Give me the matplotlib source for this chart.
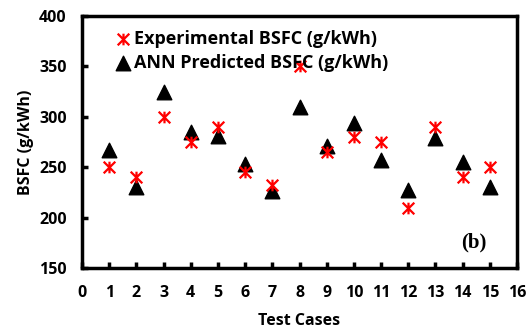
import matplotlib
matplotlib.use("Agg")
import matplotlib.pyplot as plt
from matplotlib.path import Path

cases = list(range(1, 16))
experimental = [250, 240, 300, 275, 290, 245, 232, 350, 265, 280, 275, 210, 290, 240, 250]
ann_predicted = [267, 230, 325, 285, 281, 253, 226, 310, 271, 294, 257, 227, 279, 255, 230]

# excel-like star marker: an X with a vertical stroke
star = Path([(-1, -1), (1, 1), (-1, 1), (1, -1), (0, -1), (0, 1)],
            [Path.MOVETO, Path.LINETO, Path.MOVETO, Path.LINETO, Path.MOVETO, Path.LINETO])

plt.rcParams['font.family'] = ['Open Sans', 'DejaVu Sans']
plt.rcParams['font.weight'] = 'bold'

fig = plt.figure(figsize=(5.26, 3.31), dpi=100)
ax = fig.add_axes([0.156, 0.19, 0.827, 0.762])

ax.scatter(cases, experimental, marker=star, s=70, color='red', linewidths=1.6,
           label='Experimental BSFC (g/kWh)', zorder=3)
ax.scatter(cases, ann_predicted, marker='^', s=110, color='black',
           label='ANN Predicted BSFC (g/kWh)', zorder=2)

ax.set_xlim(0, 16)
ax.set_ylim(150, 400)
ax.set_xticks(range(0, 17))
ax.set_yticks(range(150, 401, 50))
ax.tick_params(direction='in', width=2.5, length=4, labelsize=11.5)
ax.tick_params(axis='x', pad=12)
ax.tick_params(axis='y', pad=11)
for s in ax.spines.values():
    s.set_linewidth(2.5)

ax.set_xlabel('Test Cases', fontsize=11.5, fontweight='bold', labelpad=9)
ax.set_ylabel('BSFC (g/kWh)', fontsize=11.5, fontweight='bold', labelpad=4)

ax.legend(loc='upper left', bbox_to_anchor=(0.04, 0.995), frameon=False, fontsize=13,
          handlelength=1.2, handletextpad=0.0, borderaxespad=0.3, labelspacing=0.35,
          scatterpoints=1)

ax.text(0.93, 0.1, '(b)', transform=ax.transAxes, fontsize=15, fontweight='bold',
        family='Liberation Serif', ha='right', va='center')

fig.savefig('out.png', dpi=100)
